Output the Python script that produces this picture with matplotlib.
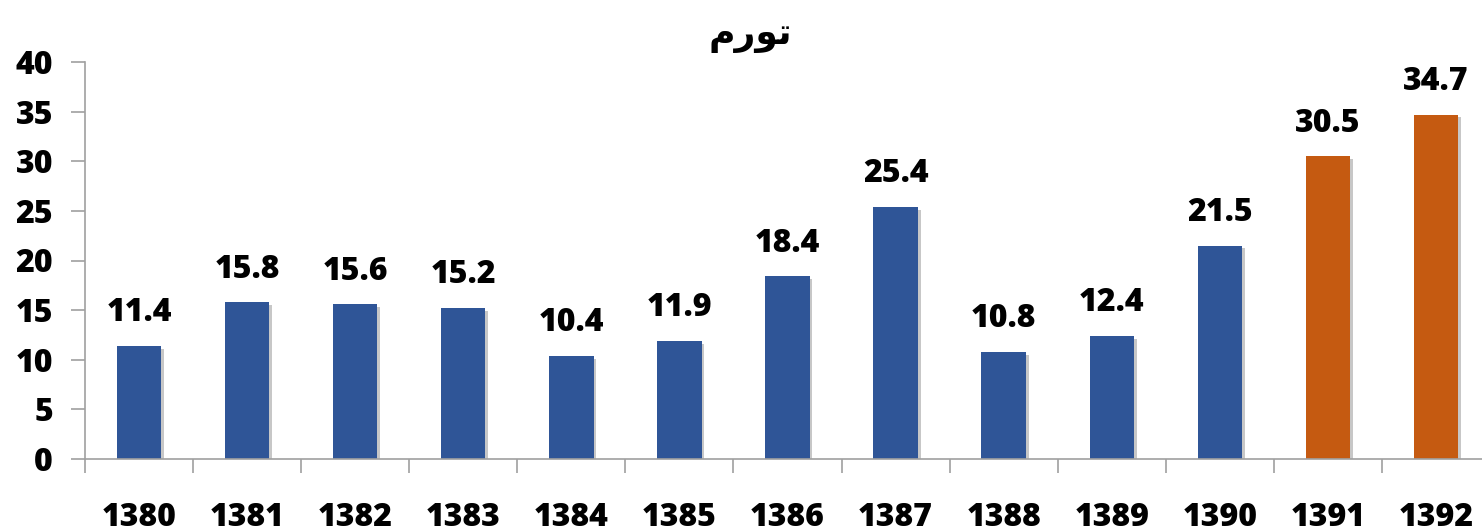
import matplotlib
matplotlib.use("Agg")
from matplotlib import pyplot as plt
import matplotlib.patheffects as pe

# data
years = ["1380", "1381", "1382", "1383", "1384", "1385", "1386",
         "1387", "1388", "1389", "1390", "1391", "1392"]
inflation = [11.4, 15.8, 15.6, 15.2, 10.4, 11.9, 18.4,
             25.4, 10.8, 12.4, 21.5, 30.5, 34.7]
# "تورم" in presentation forms (visual order) since matplotlib has no shaping
title = "\uFEE1\uFEAD\uFEEE\uFE97"

blue = "#2F5597"
orange = "#C55A11"
colors = [blue] * 11 + [orange] * 2

plt.rcParams["font.family"] = ["Open Sans", "DejaVu Sans"]
W = 800

fig = plt.figure(figsize=(14.82, 5.32), dpi=100)
ax = fig.add_axes([85 / 1482, (532 - 459) / 532, (1490 - 85) / 1482, (459 - 62) / 532])

x = list(range(len(years)))
bars = ax.bar(x, inflation, width=0.41, color=colors, zorder=2)
for b in bars:
    b.set_path_effects([pe.SimplePatchShadow(offset=(2, -2), shadow_rgbFace="black", alpha=0.22),
                        pe.Normal()])

for xi, v in zip(x, inflation):
    ax.annotate(f"{v}", (xi, v), xytext=(0, 12), textcoords="offset points",
                ha="center", va="bottom", fontsize=23, fontweight=W)

ax.set_xlim(-0.5, 12.5)
ax.set_ylim(0, 40)
ax.set_yticks(range(0, 41, 5))
ax.set_xticks([i - 0.5 for i in range(14)], minor=False)
ax.set_xticklabels([])
ax.set_xticks(x, minor=True)
ax.set_xticklabels(years, minor=True, fontsize=23, fontweight=W)
ax.tick_params(axis="x", which="minor", length=0, pad=31)
ax.tick_params(axis="x", which="major", length=10, color="#a0a0a0", width=1.2)
ax.tick_params(axis="y", length=10, color="#a0a0a0", width=1.2, pad=13, labelsize=23)
for lab in ax.get_yticklabels():
    lab.set_fontweight(W)

for s in ["top", "right"]:
    ax.spines[s].set_visible(False)
for s in ["left", "bottom"]:
    ax.spines[s].set_color("#a0a0a0")
    ax.spines[s].set_linewidth(1.2)

fig.text(750 / 1482, 1 - 36 / 532, title, ha="center", va="center",
         fontsize=26, fontweight="bold", family=["DejaVu Sans"])

fig.savefig("out.png", dpi=100)
